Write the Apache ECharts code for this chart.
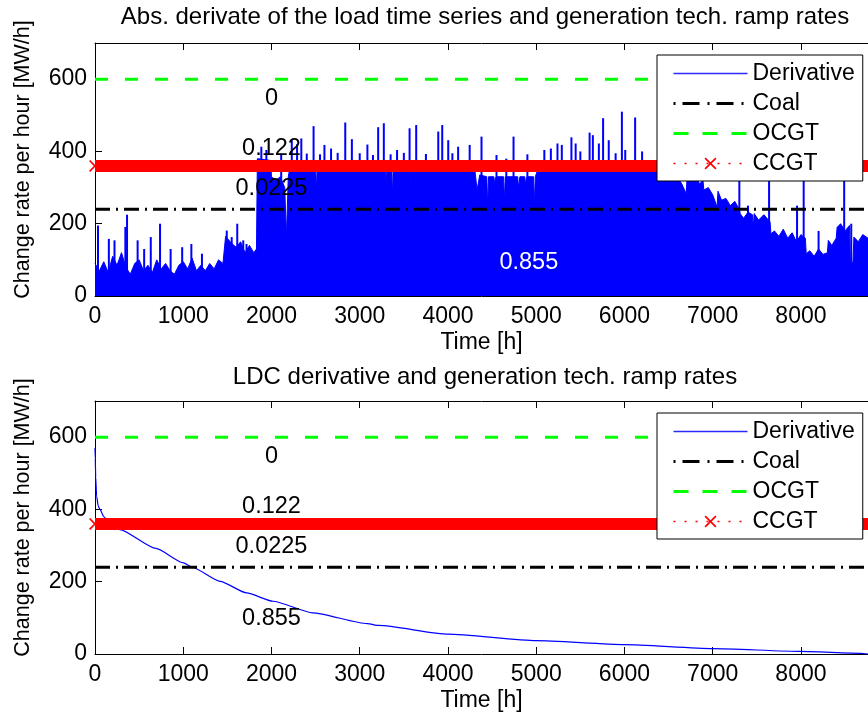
<!DOCTYPE html>
<html><head><meta charset="utf-8">
<script src="https://cdn.jsdelivr.net/npm/echarts@6/dist/echarts.min.js"></script>
<style>html,body{margin:0;padding:0;background:#fff}#c{width:868px;height:719px}</style>
</head><body><div id="c"></div>
<script>
// ---------------- data ----------------
const xMax = 8760;
const yMax = 700;
const xTickLabels = ['0','1000','2000','3000','4000','5000','6000','7000','8000'];
const yTickLabels = ['0','200','400','600'];
const legendNames = ['Derivative','Coal','OCGT','CCGT'];

const rampCoal = 240;
const rampOCGT = 600;
const rampCCGT = 360;

// top: dense core envelope of the abs. derivative (hour, MW/h)
const coreHours = [0,50,100,150,200,250,300,350,400,450,500,550,600,650,700,750,800,850,900,950,1000,1050,1100,1150,1200,1250,1300,1350,1400,1450,1480,1550,1600,1650,1700,1750,1800,1830,
 1840,1990,2000,2050,2100,2150,2170,2190,2220,2500,2510,2520,3290,3300,3310,3360,3370,3380,3560,3570,3580,4300,4330,4360,4440,4450,4460,4520,4530,4545,4630,4640,4650,4790,4800,4815,4870,4880,4895,4970,4980,4990,5040,
 6440,6450,6500,6550,6600,6650,6700,6710,6760,6800,6850,6890,6900,6950,7000,7050,7060,7100,7150,7200,7250,7300,7310,7350,7400,7450,7460,7470,7520,7580,7650,7660,7700,7750,7800,7850,7900,7950,8000,8050,8060,8100,8150,8200,8250,8300,8310,8350,8400,8410,8450,8500,8550,8560,8590,8600,8650,8700,8760];
const coreValues = [90,70,95,65,110,85,120,80,60,90,100,70,85,65,100,75,90,70,60,85,95,75,105,70,85,70,90,75,100,90,165,145,135,150,120,140,120,130,
 380,375,330,320,330,300,165,330,370,365,292,365,365,311,365,365,274,365,365,302,365,360,293,335,330,246,330,330,311,330,330,265,330,330,300,330,330,310,330,330,256,330,365,
 365,340,320,345,330,310,283,330,320,340,310,320,293,300,280,246,290,265,270,250,262,240,228,215,232,225,190,228,210,225,205,172,180,165,185,160,175,150,170,160,117,125,110,130,115,120,154,140,160,190,200,180,195,89,95,163,150,170,160];

// top: individual spikes above the core (hour, MW/h)
const spikeHours = [34,157,221,344,363,483,557,632,737,857,988,1092,1212,1493,1549,1612,1680,1717,
 1885,1942,2110,2230,2290,
 2338,2400,2477,2550,2600,2675,2750,2836,2911,3000,3087,3150,3209,3273,3350,3423,3500,3565,3640,3750,3890,3935,4003,4050,4115,4246,
 4380,4550,4661,4743,4900,5092,5166,5241,5290,5399,5447,5500,5605,5642,5710,5758,5822,5900,5971,6009,6121,6200,
 6610,6816,7302,7400,7639,7956,8031,8200,8490,8570];
const spikeValues = [195,158,154,191,225,154,130,163,200,130,135,144,117,181,163,200,154,144,
 413,404,394,431,420,
 436,394,470,392,418,408,396,480,434,395,419,390,467,478,392,404,396,464,473,393,455,473,431,395,413,418,
 441,390,380,441,392,404,408,422,418,439,422,400,452,445,422,492,431,395,510,404,494,400,
 360,360,350,250,360,250,340,180,340,200];

// bottom: derivative of the load duration curve
const ldcHours  = [0,3,8,18,37,56,100,150,280,690,1003,1100,1418,1718,2017,2466,3087,3215,4000,5000,6000,7000,8000,8680,8760];
const ldcValues = [570,540,490,437,409,400,380,367,344,292,252,240,201,169,146,114,84,79,55,37,26,15,7,2,0];

// share annotations
const topLabelText = ['0','0.122','0.0225','0.855'];
const topLabelX = [2000,2000,2000,4916];
const topLabelY = [547,408,297,92];
const botLabelText = ['0','0.122','0.0225','0.855'];
const botLabelX = [2000,2000,2000,2000];
const botLabelY = [547,407,298,97];

const titles = ['Abs. derivate of the load time series and generation tech. ramp rates','LDC derivative and generation tech. ramp rates'];
const xName = 'Time [h]';
const yName = 'Change rate per hour [MW/h]';

// ---------------- chart ----------------
const FONT = "'Liberation Sans', Arial, Helvetica, sans-serif";
const BLUE = '#0000ff', GREEN = '#00ff00', RED = '#ff0000', BLACK = '#000000';
const XPATH = 'path://M0,1L1,0L5,4L9,0L10,1L6,5L10,9L9,10L5,6L1,10L0,9L4,5Z';
const gridTops = [43, 401];
const titleTops = [5, 365];
const plotH = 253;

function xAxes(gi) {
  return [{
    type:'value', gridIndex:gi, position:'bottom', min:0, max:xMax, interval:1000,
    name:xName, nameLocation:'middle', nameGap:35,
    nameTextStyle:{fontSize:23, color:BLACK, fontFamily:FONT},
    axisLine:{show:true, onZero:false, lineStyle:{color:BLACK, width:1}},
    axisTick:{show:true, inside:true, length:7, lineStyle:{color:BLACK}},
    axisLabel:{show:true, margin:9, fontSize:23, color:BLACK, fontFamily:FONT, showMaxLabel:false,
      formatter:v => xTickLabels[Math.round(v/1000)] || ''},
    splitLine:{show:false}
  },{
    type:'value', gridIndex:gi, position:'top', min:0, max:xMax, interval:1000,
    axisLine:{show:true, onZero:false, lineStyle:{color:BLACK, width:1}},
    axisTick:{show:true, inside:true, length:7, lineStyle:{color:BLACK}},
    axisLabel:{show:false}, splitLine:{show:false}
  }];
}
function yAxis(gi) {
  return {
    type:'value', gridIndex:gi, min:0, max:yMax, interval:200,
    name:yName, nameLocation:'middle', nameGap:61,
    nameTextStyle:{fontSize:21.5, color:BLACK, fontFamily:FONT, padding:[0,0,0,20]},
    axisLine:{show:true, onZero:false, lineStyle:{color:BLACK, width:1}},
    axisTick:{show:true, inside:true, length:7, lineStyle:{color:BLACK}},
    axisLabel:{show:true, margin:8, fontSize:23, color:BLACK, fontFamily:FONT, showMaxLabel:false,
      formatter:v => yTickLabels[Math.round(v/200)] || ''},
    splitLine:{show:false}
  };
}
function rampSeries(xi, yi) {
  return [{
    name:'Coal', type:'line', xAxisIndex:xi, yAxisIndex:yi, symbol:'none', z:3, silent:true,
    data:[[0,rampCoal],[xMax,rampCoal]],
    lineStyle:{color:BLACK, width:3, type:[15,6,2,6]}, itemStyle:{color:BLACK}
  },{
    name:'OCGT', type:'line', xAxisIndex:xi, yAxisIndex:yi, symbol:'none', z:3, silent:true,
    data:[[0,rampOCGT],[xMax,rampOCGT]],
    lineStyle:{color:GREEN, width:3, type:[13,17]}, itemStyle:{color:GREEN}
  },{
    name:'CCGT', type:'line', xAxisIndex:xi, yAxisIndex:yi, symbol:XPATH, symbolSize:12, showSymbol:true, z:4, silent:true,
    data:[[0,rampCCGT],[xMax,rampCCGT]],
    lineStyle:{color:RED, width:12, type:'solid'}, itemStyle:{color:RED}
  }];
}
function labelSeries(xi, yi, texts, xs, ys, whiteIdx) {
  return {
    type:'scatter', xAxisIndex:xi, yAxisIndex:yi, symbolSize:0, z:10, silent:true,
    itemStyle:{opacity:1},
    data: texts.map((t,i) => ({value:[xs[i], ys[i]], name:t,
      label:{color: i === whiteIdx ? '#ffffff' : BLACK}})),
    label:{show:true, position:'inside', formatter:'{b}', fontSize:23.5, fontFamily:FONT, color:BLACK,
      textBorderWidth:0, textShadowBlur:0, opacity:1}
  };
}
function legendAt(top) {
  return {
    z:20, zlevel:0,
    orient:'vertical', left:657, top:top, padding:[7,8,6,15], itemGap:7, itemWidth:74, itemHeight:15,
    backgroundColor:'#ffffff', borderColor:BLACK, borderWidth:1, borderRadius:0, selectedMode:false,
    textStyle:{fontSize:23, color:BLACK, fontFamily:FONT},
    data:[
      {name:legendNames[0], itemStyle:{opacity:0}, lineStyle:{color:'#2b2bff', width:1.5, type:'solid'}},
      {name:legendNames[1], itemStyle:{opacity:0}, lineStyle:{color:BLACK, width:3, type:[2,7,17,8]}},
      {name:legendNames[2], itemStyle:{opacity:0}, lineStyle:{color:GREEN, width:3, type:[15,14]}},
      {name:legendNames[3], lineStyle:{color:RED, width:1.5, type:[2,9]}}
    ]
  };
}

const option = {
  animation:false,
  backgroundColor:'#ffffff',
  textStyle:{fontFamily:FONT},
  title: titles.map((t,i) => ({text:t, left:485, top:titleTops[i], textAlign:'center', padding:0,
    textStyle:{fontSize:24, fontWeight:'normal', color:BLACK, fontFamily:FONT}})),
  legend:[legendAt(55), legendAt(413)],
  grid: gridTops.map(t => ({left:95, top:t, width:781, height:plotH, containLabel:false})),
  xAxis: [...xAxes(0), ...xAxes(1)],
  yAxis: [yAxis(0), yAxis(1)],
  series: [
    { name:'Derivative', type:'line', xAxisIndex:0, yAxisIndex:0, symbol:'none', z:2, silent:true,
      data: coreHours.map((h,i) => [h, coreValues[i]]),
      lineStyle:{color:BLUE, width:1}, itemStyle:{color:BLUE}, areaStyle:{color:BLUE, opacity:1} },
    { name:'spikes', type:'bar', xAxisIndex:0, yAxisIndex:0, z:2, silent:true, barWidth:2,
      data: spikeHours.map((h,i) => [h, spikeValues[i]]),
      itemStyle:{color:BLUE} },
    ...rampSeries(0,0),
    labelSeries(0,0, topLabelText, topLabelX, topLabelY, 3),
    { name:'Derivative', type:'line', xAxisIndex:2, yAxisIndex:1, symbol:'none', z:2, silent:true,
      smooth:0.2, smoothMonotone:'x',
      data: ldcHours.map((h,i) => [h, ldcValues[i]]),
      lineStyle:{color:BLUE, width:1.2}, itemStyle:{color:BLUE} },
    ...rampSeries(2,1),
    labelSeries(2,1, botLabelText, botLabelX, botLabelY, -1)
  ]
};
const chart = echarts.init(document.getElementById('c'), null, {renderer:'canvas'});
chart.setOption(option);
</script></body></html>
